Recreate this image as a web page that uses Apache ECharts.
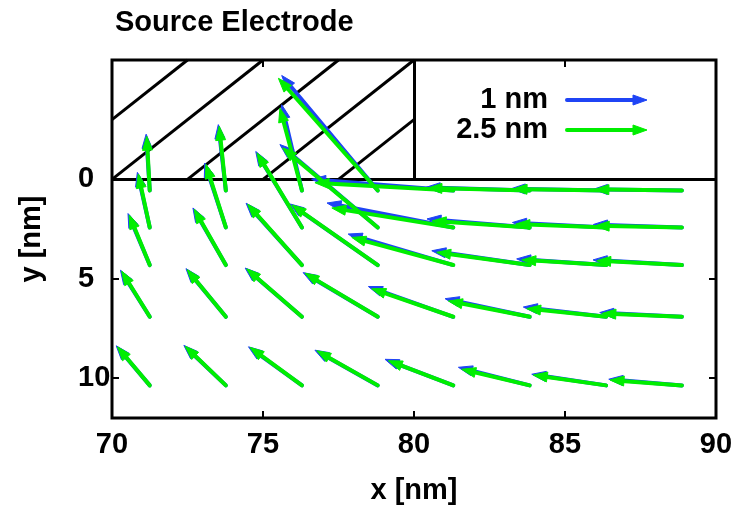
<!DOCTYPE html>
<html>
<head>
<meta charset="utf-8">
<script src="https://cdn.jsdelivr.net/npm/echarts@6/dist/echarts.min.js"></script>
<style>
  html, body { margin: 0; padding: 0; background: #fff; }
  #chart { width: 745px; height: 511px; }
</style>
</head>
<body>
<div id="chart"></div>
<script>
// ---- data ----
const titleText = 'Source Electrode';
const xName = 'x [nm]';
const yName = 'y [nm]';
const xTicks = [70, 75, 80, 85, 90];
const yTicks = [0, 5, 10];
const xRange = [70, 90];
const yRange = [-6, 12];
// electrode region (hatched)
const electrodeX = [70, 80];
const electrodeY = [-6, 0];
const hatchStep = 2.5;

// arrow tails (grid)
const tailX = [71.25, 73.77, 76.29, 78.8, 81.3, 83.83, 86.36, 88.87];
const tailY = [0.56, 2.42, 4.31, 6.91, 10.36];

// arrow heads, series "2.5 nm" (green)
const head25X = [
  [71.15, 73.55, 75.56, 75.51, 76.72, 80.46, 83.28, 85.99],
  [70.87, 73.11, 74.80, 75.65, 77.28, 80.60, 83.37, 86.00],
  [70.57, 72.72, 74.49, 75.96, 77.94, 80.75, 83.57, 86.05],
  [70.32, 72.49, 74.46, 76.39, 78.60, 81.14, 83.73, 86.22],
  [70.18, 72.42, 74.57, 76.78, 79.15, 81.58, 83.95, 86.49]
];
const head25Y = [
  [-2.17, -2.67, -3.58, -5.08, 0.17, 0.44, 0.49, 0.51],
  [-0.27, -0.75, -1.33, -1.58, 1.44, 2.09, 2.25, 2.34],
  [1.79, 1.50, 1.25, 1.29, 2.92, 3.67, 4.05, 4.09],
  [4.62, 4.54, 4.50, 4.72, 5.50, 6.12, 6.50, 6.75],
  [8.42, 8.39, 8.45, 8.62, 9.12, 9.55, 9.84, 10.09]
];
// arrow heads, series "1 nm" (blue)
const head1X = [
  [71.13, 73.52, 75.62, 75.62, 76.61, 80.40, 83.22, 85.94],
  [70.84, 73.07, 74.76, 75.56, 77.12, 80.43, 83.26, 85.94],
  [70.53, 72.68, 74.44, 75.90, 77.82, 80.59, 83.40, 85.93],
  [70.28, 72.45, 74.41, 76.33, 78.49, 81.03, 83.62, 86.15],
  [70.14, 72.38, 74.52, 76.72, 79.04, 81.47, 83.90, 86.45]
];
const head1Y = [
  [-2.27, -2.75, -3.75, -5.22, 0.00, 0.40, 0.47, 0.50],
  [-0.35, -0.82, -1.40, -1.75, 1.19, 1.99, 2.17, 2.27],
  [1.72, 1.44, 1.20, 1.24, 2.75, 3.59, 4.00, 4.05],
  [4.57, 4.49, 4.46, 4.69, 5.39, 6.00, 6.42, 6.70],
  [8.37, 8.35, 8.42, 8.59, 9.05, 9.45, 9.80, 10.05]
];
const seriesNames = ['1 nm', '2.5 nm'];
const seriesColors = ['#1f44f5', '#00ee00'];

// ---- build ----
function buildArrows(hx, hy) {
  const out = [];
  for (let r = 0; r < tailY.length; r++) {
    for (let c = 0; c < tailX.length; c++) {
      out.push([tailX[c], tailY[r], hx[r][c], hy[r][c]]);
    }
  }
  return out;
}

const HEAD_LEN = 14, HEAD_HW = 5, SHAFT_W = 4;
function arrowShapes(p0, p1, color, z) {
  const dx = p1[0] - p0[0], dy = p1[1] - p0[1];
  const len = Math.sqrt(dx * dx + dy * dy) || 1;
  const ux = dx / len, uy = dy / len;
  const bx = p1[0] - ux * HEAD_LEN, by = p1[1] - uy * HEAD_LEN;
  const nx = -uy, ny = ux;
  const extra = z != null ? { z: z } : {};
  return [
    Object.assign({ type: 'line', shape: { x1: p0[0], y1: p0[1], x2: bx + ux * 2, y2: by + uy * 2 },
      style: { stroke: color, lineWidth: SHAFT_W, lineCap: 'round' } }, extra),
    Object.assign({ type: 'polygon', shape: { points: [[p1[0], p1[1]], [bx + nx * HEAD_HW, by + ny * HEAD_HW], [bx - nx * HEAD_HW, by - ny * HEAD_HW]] },
      style: { fill: color, stroke: color, lineWidth: 1, lineJoin: 'round' } }, extra)
  ];
}

function arrowSeries(name, data, color) {
  return {
    type: 'custom', name: name, coordinateSystem: 'cartesian2d',
    xAxisIndex: 0, yAxisIndex: 0, clip: false, silent: true,
    encode: { x: [0, 2], y: [1, 3] },
    data: data,
    renderItem: function (params, api) {
      const p0 = api.coord([api.value(0), api.value(1)]);
      const p1 = api.coord([api.value(2), api.value(3)]);
      return { type: 'group', children: arrowShapes(p0, p1, color) };
    },
    z: 5
  };
}

// hatch lines inside electrode region: slope dx/dy = 5/6 (in data units)
const hatchLines = [];
(function () {
  const h = electrodeY[1] - electrodeY[0];
  const w = h * 5 / 6;
  for (let s = electrodeX[0] - w; s < electrodeX[1]; s += hatchStep) {
    let xa = s, ya = electrodeY[1], xb = s + w, yb = electrodeY[0];
    if (xa < electrodeX[0]) { ya = ya - (electrodeX[0] - xa) * (h / w); xa = electrodeX[0]; }
    if (xb > electrodeX[1]) { yb = yb + (xb - electrodeX[1]) * (h / w); xb = electrodeX[1]; }
    if (xb - xa > 1e-6) hatchLines.push({ coords: [[xa, ya], [xb, yb]] });
  }
})();
const structureLines = [
  { coords: [[electrodeX[1], electrodeY[0]], [electrodeX[1], electrodeY[1]]] },
  { coords: [[xRange[0], 0], [xRange[1], 0]] }
];

const chart = echarts.init(document.getElementById('chart'), null, { renderer: 'canvas' });
const FONT = 'Liberation Sans';
const FS = 29;
const txt = { fontFamily: FONT, fontWeight: 'bold', fontSize: FS, color: '#000' };
const tickStyle = { show: true, inside: true, length: 7, lineStyle: { color: '#000', width: 2 } };
const axisLineOff = { show: false, onZero: false };

chart.setOption({
  animation: false,
  backgroundColor: '#fff',
  title: {
    text: titleText, left: 110, top: 3,
    textStyle: txt
  },
  grid: { left: 112, right: 29, top: 60, bottom: 93, show: true, borderColor: '#000', borderWidth: 3, backgroundColor: 'transparent', z: 10 },
  xAxis: [
    {
      type: 'value', min: xRange[0], max: xRange[1], interval: 5, position: 'bottom',
      axisLine: axisLineOff, splitLine: { show: false },
      name: xName, nameLocation: 'middle', nameGap: 58,
      nameTextStyle: txt,
      axisLabel: Object.assign({ margin: 12, customValues: xTicks }, txt),
      axisTick: Object.assign({ customValues: xTicks }, tickStyle)
    },
    {
      type: 'value', min: xRange[0], max: xRange[1], interval: 5, position: 'top',
      axisLine: axisLineOff, splitLine: { show: false },
      axisLabel: { show: false },
      axisTick: Object.assign({ customValues: xTicks }, tickStyle)
    }
  ],
  yAxis: [
    {
      type: 'value', min: yRange[0], max: yRange[1], inverse: true, position: 'left',
      axisLine: axisLineOff, splitLine: { show: false },
      name: yName, nameLocation: 'middle', nameGap: 66, nameRotate: 90,
      nameTextStyle: txt,
      axisLabel: Object.assign({ margin: 34, align: 'left', customValues: yTicks }, txt),
      axisTick: Object.assign({ customValues: yTicks }, tickStyle)
    },
    {
      type: 'value', min: yRange[0], max: yRange[1], inverse: true, position: 'right',
      axisLine: axisLineOff, splitLine: { show: false },
      axisLabel: { show: false },
      axisTick: Object.assign({ customValues: yTicks }, tickStyle)
    }
  ],
  series: [
    {
      type: 'lines', coordinateSystem: 'cartesian2d', xAxisIndex: 0, yAxisIndex: 0,
      polyline: false, silent: true, z: 3,
      lineStyle: { color: '#000', width: 3, opacity: 1 },
      data: hatchLines.concat(structureLines)
    },
    arrowSeries(seriesNames[0], buildArrows(head1X, head1Y), seriesColors[0]),
    arrowSeries(seriesNames[1], buildArrows(head25X, head25Y), seriesColors[1])
  ],
  graphic: {
    elements: [
      { type: 'text', x: 548, y: 100, z: 20,
        style: { text: seriesNames[0], font: 'bold ' + FS + 'px "' + FONT + '"', fill: '#000', align: 'right', verticalAlign: 'middle' } },
      { type: 'text', x: 548, y: 130, z: 20,
        style: { text: seriesNames[1], font: 'bold ' + FS + 'px "' + FONT + '"', fill: '#000', align: 'right', verticalAlign: 'middle' } }
    ].concat(arrowShapes([567, 100], [647, 100], seriesColors[0], 20))
     .concat(arrowShapes([567, 130], [647, 130], seriesColors[1], 20))
  }
});
</script>
</body>
</html>
